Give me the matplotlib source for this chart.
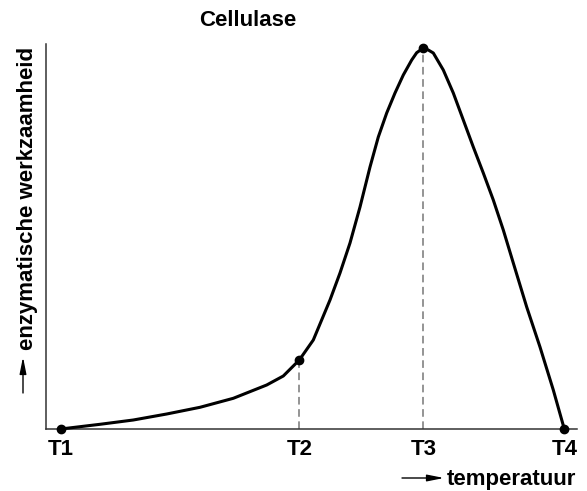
import matplotlib
matplotlib.use("Agg")
import matplotlib.pyplot as plt
from matplotlib.transforms import IdentityTransform

W, H = 587, 491

# curve (arbitrary units: temperature / activity)
temp = [14.7, 54, 87.3, 120.7, 154, 187.3, 220.7, 237.3, 253.3, 267.3, 284,
        294, 304, 314, 324, 332.3, 340.7, 349, 357.3, 365.7, 370.7, 377.3,
        382.3, 387.3, 397.3, 407.3, 417.3, 427.3, 437.3, 447.3, 457.3, 467.3,
        480.7, 494, 507.3, 518.3]
activity = [0, 4.7, 9, 15, 21.7, 30.7, 44, 53, 69, 89, 129,
            156, 186, 222, 262, 292, 316, 336, 354, 369, 376.3, 381,
            379, 376, 359, 336, 309, 282, 256, 229, 199, 166,
            122, 82, 39, 0]

tick_temps = [14.7, 253.3, 377.3, 518.3]
tick_labels = ["T1", "T2", "T3", "T4"]
dot_act = [0, 69, 381, 0]

dash_temps = [253.3, 377.3]
dash_act = [69, 381]

plt.rcParams["font.family"] = ["Liberation Sans", "DejaVu Sans"]
plt.rcParams["font.weight"] = "bold"

fig = plt.figure(figsize=(W / 100, H / 100), dpi=100)
ax = fig.add_axes([46 / W, 1 - 429 / H, (577 - 46) / W, (429 - 44) / H])
ax.set_xlim(0, 531)
ax.set_ylim(0, 385)

ax.vlines(dash_temps, 0, dash_act, colors="#777777", linestyles=(0, (5, 3)),
          lw=1.1, zorder=2)
ax.plot(temp, activity, color="black", lw=2.2, solid_joinstyle="round",
        solid_capstyle="round", zorder=3, clip_on=False)
ax.plot(tick_temps, dot_act, "o", color="black", ms=6, zorder=4, clip_on=False)

for s in ["top", "right"]:
    ax.spines[s].set_visible(False)
for s in ["left", "bottom"]:
    ax.spines[s].set_color("#333333")
    ax.spines[s].set_linewidth(1.1)

ax.set_yticks([])
ax.set_xticks(tick_temps, tick_labels, fontsize=16, fontweight="bold")
ax.tick_params(axis="x", length=0, pad=7)

px = IdentityTransform()
fig.text(248, 471, "Cellulase", ha="center", va="center", fontsize=16,
         fontweight="bold", transform=px)
fig.text(447, 6, "temperatuur", ha="left", va="baseline", fontsize=16,
         fontweight="bold", transform=px)
fig.text(33, 141, "enzymatische werkzaamheid", ha="left", va="baseline",
         rotation=90, rotation_mode="anchor", fontsize=16, fontweight="bold",
         transform=px)

arrow = dict(arrowstyle="-|>,head_length=1.0,head_width=0.2", lw=1.0,
             color="black", shrinkA=0, shrinkB=0, mutation_scale=10)
ax.annotate("", xy=(444, 13), xytext=(402, 13), xycoords="figure pixels",
            textcoords="figure pixels", arrowprops=arrow)
ax.annotate("", xy=(23, 134), xytext=(23, 98), xycoords="figure pixels",
            textcoords="figure pixels", arrowprops=arrow)

fig.savefig("out.png", dpi=100)
